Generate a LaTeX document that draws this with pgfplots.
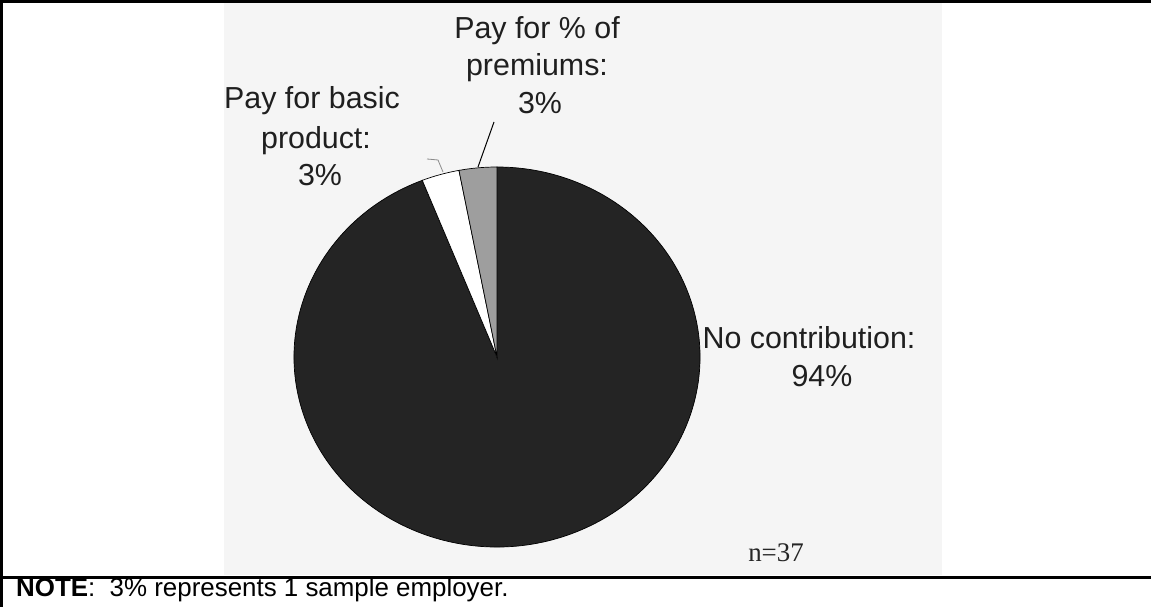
\documentclass[border=0pt]{standalone}
\usepackage{pgfplots}
\pgfplotsset{compat=1.18}
\usepackage{fontspec}
\setmainfont{Liberation Sans}
\newfontfamily\timesfont{Liberation Serif}
\begin{document}
\begin{tikzpicture}
% data (percent)
\def\vNo{94}\def\vBasic{3}\def\vPrem{3}
\pgfmathsetmacro\aPrem{90+3.6*\vPrem}
\pgfmathsetmacro\aBasic{\aPrem+3.6*\vBasic}
\pgfmathsetmacro\aNo{\aBasic+3.6*\vNo}
\begin{axis}[width=1151bp,height=607bp,scale only axis,
  xmin=0,xmax=1151,ymin=0,ymax=607,hide axis]
\fill[white] (axis cs:0,0) rectangle (axis cs:1151,607);
\fill[black!4] (axis cs:224,32) rectangle (axis cs:942,607);
% pie
\fill[black!86, draw=black, line width=0.7bp] (axis cs:497,250) -- ++(\aBasic:203bp and 190bp)
  arc[start angle=\aBasic, end angle=\aNo, x radius=203bp, y radius=190bp] -- cycle;
\fill[white, draw=black, line width=0.7bp] (axis cs:497,250) -- ++(\aPrem:203bp and 190bp)
  arc[start angle=\aPrem, end angle=\aBasic, x radius=203bp, y radius=190bp] -- cycle;
\fill[black!38, draw=black, line width=0.7bp] (axis cs:497,250) -- ++(90:203bp and 190bp)
  arc[start angle=90, end angle=\aPrem, x radius=203bp, y radius=190bp] -- cycle;
% leader lines
\draw[black, line width=1bp] (axis cs:478,440) -- (axis cs:494,485);
\draw[black!45, line width=0.8bp] (axis cs:427,448) -- (axis cs:438,447) -- (axis cs:443,435);
% labels
\begin{scope}[every node/.style={anchor=base, inner sep=0pt, font=\fontsize{30.5}{36}\selectfont, text=black!88}]
\node at (axis cs:537,568) {Pay for \% of};
\node at (axis cs:537,531) {premiums:};
\node at (axis cs:540,493) {3\%};
\node at (axis cs:312,498) {Pay for basic};
\node at (axis cs:316,458) {product:};
\node at (axis cs:320,421) {3\%};
\node at (axis cs:809,258) {No contribution:};
\node at (axis cs:822,220) {94\%};
\end{scope}
\node[anchor=base, inner sep=0pt, font=\timesfont\fontsize{27}{32}\selectfont, text=black!85] at (axis cs:776,45) {n=37};
\node[anchor=base west, inner sep=0pt, font=\fontsize{26}{30}\selectfont] at (axis cs:16,11) {\textbf{NOTE}:\ \ 3\% represents 1 sample employer.};
% frame
\draw[black, line width=3bp] (axis cs:0,605.5) -- (axis cs:1151,605.5);
\draw[black, line width=3bp] (axis cs:1.5,0) -- (axis cs:1.5,607);
\draw[black, line width=3bp] (axis cs:0,29) -- (axis cs:1151,29);
\end{axis}
\end{tikzpicture}
\end{document}
